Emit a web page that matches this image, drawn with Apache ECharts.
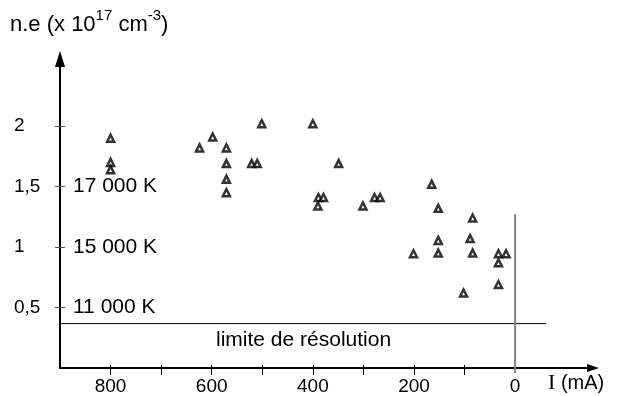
<!DOCTYPE html>
<html><head><meta charset="utf-8">
<script src="https://cdn.jsdelivr.net/npm/echarts@6/dist/echarts.min.js"></script>
<style>html,body{margin:0;padding:0;background:#fff}#c{width:637px;height:396px}</style>
</head><body><div id="c"></div>
<script>
// Data
const currentX = [800,800,800,624,598,571,571,571,571,521,510,501,400,349,389,379,390,278,267,301,165,152,84,152,89,201,152,84,33,18,33,33,102];
const densityY = [1.9,1.7,1.64,1.82,1.91,1.82,1.69,1.56,1.45,1.69,1.69,2.02,2.02,1.69,1.41,1.41,1.34,1.41,1.41,1.34,1.52,1.32,1.24,1.055,1.07,0.945,0.95,0.95,0.945,0.945,0.87,0.69,0.62];
const xTickValues = [800,700,600,500,400,300,200,100];
const xLabelValues = [800,600,400,200,0];
const yTickValues = [0.5,1,1.5,2];
const tempLevels = [0.5,1,1.5];
const tempLabels = ['11 000 K','15 000 K','17 000 K'];
const resolutionLimit = 0.367;
const limitLineX = [900,-61];
const zeroLineY = [-0.04,1.27];
const xRange = [-154,900];
const yRange = [0,2.555];

const FONT = '"Liberation Sans", Arial, sans-serif';
const points = currentX.map((x,i)=>[x,densityY[i]]);

const chart = echarts.init(document.getElementById('c'), null, {renderer:'canvas'});
chart.setOption({
  animation:false,
  backgroundColor:'#fff',
  textStyle:{fontFamily:FONT},
  grid:{left:60,right:44,top:59,bottom:28,containLabel:false},
  xAxis:[{
    type:'value',min:xRange[0],max:xRange[1],inverse:true,position:'bottom',
    axisLine:{show:true,onZero:false,symbol:['none','triangle'],symbolSize:[8,12],lineStyle:{color:'#000',width:2}},
    axisTick:{show:true,customValues:xTickValues,length:7,lineStyle:{color:'#000',width:1}},
    axisLabel:{show:true,customValues:xLabelValues,margin:9,fontSize:19,color:'#000',fontFamily:FONT},
    splitLine:{show:false}
  },{
    type:'value',min:xRange[0],max:xRange[1],inverse:true,position:'bottom',
    axisLine:{show:false,onZero:false},
    axisTick:{show:true,inside:true,customValues:xTickValues,length:3,lineStyle:{color:'#000',width:1}},
    axisLabel:{show:false},splitLine:{show:false}
  }],
  yAxis:[{
    type:'value',min:yRange[0],max:yRange[1],position:'left',
    axisLine:{show:true,onZero:false,symbol:['none','triangle'],symbolSize:[10,16],lineStyle:{color:'#000',width:2}},
    axisTick:{show:true,customValues:yTickValues,length:5,lineStyle:{color:'#555',width:1}},
    axisLabel:{show:true,customValues:yTickValues,align:'left',margin:46,fontSize:19,color:'#000',fontFamily:FONT,
      formatter:v=>String(v).replace('.',',')},
    splitLine:{show:false}
  },{
    type:'value',min:yRange[0],max:yRange[1],position:'left',offset:0,
    axisLine:{show:false,onZero:false},
    axisTick:{show:true,inside:true,customValues:yTickValues,length:5,lineStyle:{color:'#555',width:1}},
    axisLabel:{show:true,inside:true,customValues:tempLevels,margin:13,fontSize:21,color:'#000',fontFamily:FONT,
      formatter:v=>tempLabels[tempLevels.indexOf(v)]},
    splitLine:{show:false}
  }],
  series:[{
    type:'line',xAxisIndex:0,yAxisIndex:0,silent:true,symbol:'none',
    lineStyle:{color:'#000',width:1},
    data:limitLineX.map(x=>[x,resolutionLimit])
  },{
    type:'line',xAxisIndex:0,yAxisIndex:0,silent:true,symbol:'none',clip:false,
    lineStyle:{color:'#808080',width:2},
    data:zeroLineY.map(y=>[0,y])
  },{
    type:'scatter',xAxisIndex:0,yAxisIndex:0,
    symbol:'triangle',symbolSize:7,
    itemStyle:{color:'#fff',borderColor:'#000',borderWidth:2.5},
    data:points
  }],
  graphic:[{
    type:'text',left:10,top:8,
    style:{text:'{m|n.e (x 10}{s|17}{m| cm}{s|-3}{m|)}',
      rich:{m:{fontSize:22,fontFamily:FONT,fill:'#000',lineHeight:28,verticalAlign:'bottom'},
            s:{fontSize:15,fontFamily:FONT,fill:'#000',lineHeight:28,verticalAlign:'top'}}}
  },{
    type:'text',left:216,top:330,
    style:{text:'limite de résolution',fontSize:21,fontFamily:FONT,fill:'#000'}
  },{
    type:'text',left:548,top:372,
    style:{text:'{i|I}{m| (mA)}',
      rich:{i:{fontSize:22,fontFamily:'"Liberation Serif", "Times New Roman", serif',fill:'#000'},
            m:{fontSize:20,fontFamily:FONT,fill:'#000'}}}
  }]
});
</script></body></html>
